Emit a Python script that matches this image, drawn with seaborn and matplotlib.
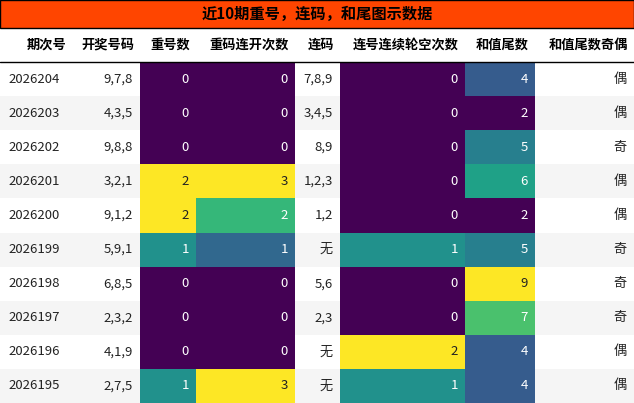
import numpy as np
import matplotlib
matplotlib.use("Agg")
import matplotlib.pyplot as plt
import seaborn as sns
from matplotlib.colors import Normalize

sns.set_theme(style="white")
plt.rcParams['font.family'] = ['Noto Sans CJK SC', 'DejaVu Sans']

title = "近10期重号，连码，和尾图示数据"
columns = ["期次号", "开奖号码", "重号数", "重码连开次数", "连码", "连号连续轮空次数", "和值尾数", "和值尾数奇偶"]
issues = ["2026204", "2026203", "2026202", "2026201", "2026200", "2026199", "2026198", "2026197", "2026196", "2026195"]
draws = ["9,7,8", "4,3,5", "9,8,8", "3,2,1", "9,1,2", "5,9,1", "6,8,5", "2,3,2", "4,1,9", "2,7,5"]
repeat_cnt = [0, 0, 0, 2, 2, 1, 0, 0, 0, 1]
repeat_streak = [0, 0, 0, 3, 2, 1, 0, 0, 0, 3]
consec = ["7,8,9", "3,4,5", "8,9", "1,2,3", "1,2", "无", "5,6", "2,3", "无", "无"]
consec_gap = [0, 0, 0, 0, 0, 1, 0, 0, 2, 1]
sum_tail = [4, 2, 5, 6, 2, 5, 9, 7, 4, 4]
parity = ["偶", "偶", "奇", "偶", "偶", "奇", "奇", "奇", "偶", "偶"]

data = [issues, draws, repeat_cnt, repeat_streak, consec, consec_gap, sum_tail, parity]
numeric = {2, 3, 5, 6}
edges = [0, 72, 140, 196, 295, 340, 465, 535, 634]

fig = plt.figure(figsize=(6.34, 4.03), dpi=100)
ax = fig.add_axes([0, 0, 1, 1])
ax.set_xlim(0, 634); ax.set_ylim(403, 0); ax.axis('off')
cmap = sns.color_palette("viridis", as_cmap=True)

ax.add_patch(plt.Rectangle((0, 0), 634, 28, facecolor="#FF4500", edgecolor="black", lw=1))
ax.text(317, 14, title, ha='center', va='center', fontsize=11, fontweight='bold', color='black')
for j, c in enumerate(columns):
    ax.text(edges[j+1]-6, 45, c, ha='right', va='center', fontsize=9.5, fontweight='bold', color='black')
ax.plot([0, 634], [62, 62], color='black', lw=1)

top, rh = 62, 34.1
for j, col in enumerate(data):
    norm = None
    if j in numeric:
        norm = Normalize(min(col), max(col))
    for i, v in enumerate(col):
        y0 = top + i*rh
        if norm is not None:
            fc = cmap(norm(v))
            lum = 0.299*fc[0] + 0.587*fc[1] + 0.114*fc[2]
            tc = '#222222' if lum > 0.6 else 'white'
        else:
            fc = 'white' if i % 2 == 0 else '#f5f5f5'
            tc = '#222222'
        ax.add_patch(plt.Rectangle((edges[j], y0), edges[j+1]-edges[j], rh, facecolor=fc, edgecolor='none'))
        if j == 0:
            ax.text(edges[j]+8, y0+rh/2, str(v), ha='left', va='center', fontsize=9.5, color=tc)
        else:
            ax.text(edges[j+1]-7, y0+rh/2, str(v), ha='right', va='center', fontsize=9.5, color=tc)

fig.savefig("out.png", dpi=100)
